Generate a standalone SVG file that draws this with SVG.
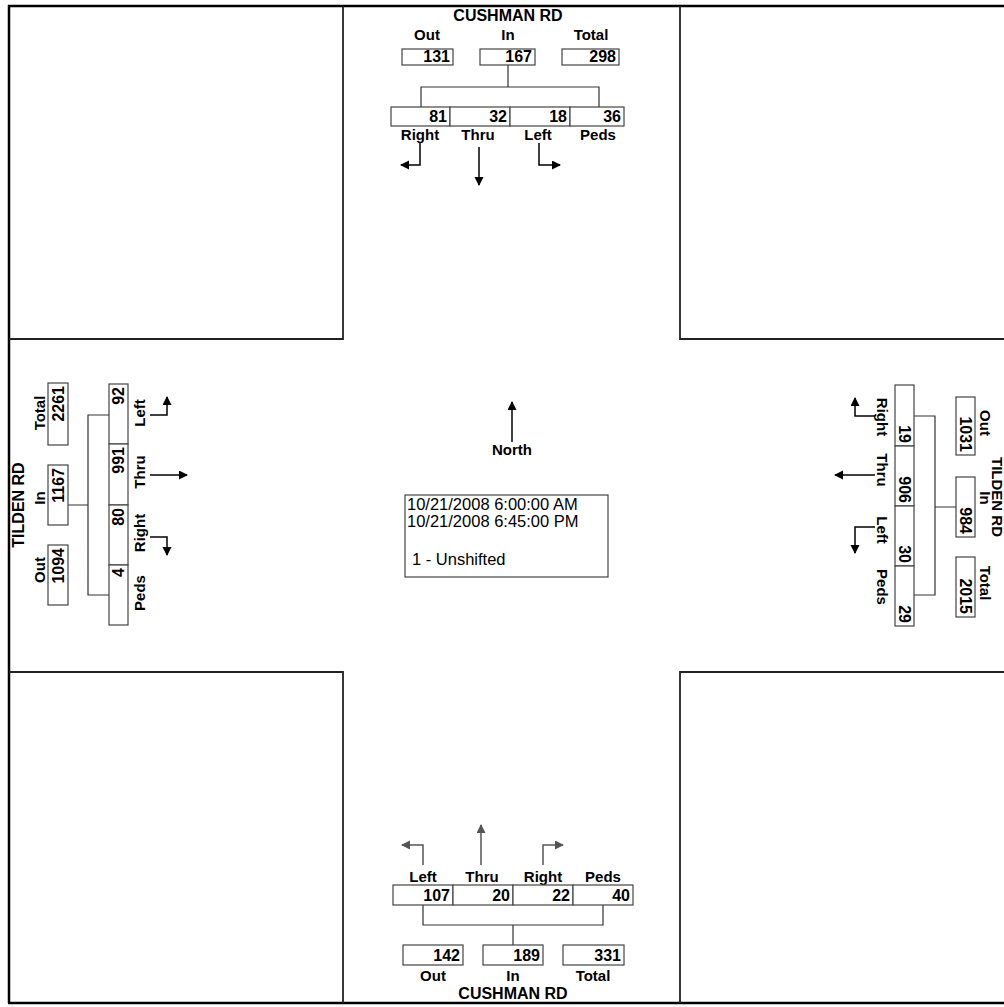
<svg xmlns="http://www.w3.org/2000/svg" width="1004" height="1007" viewBox="0 0 1004 1007">
<defs>
<style>
.t{font-family:"Liberation Sans",Arial,sans-serif;font-size:15px;font-weight:bold;fill:#000;text-anchor:middle}
.r{font-family:"Liberation Sans",Arial,sans-serif;font-size:16px;font-weight:bold;fill:#000;text-anchor:middle}
.re{font-family:"Liberation Sans",Arial,sans-serif;font-size:15px;font-weight:bold;fill:#000;text-anchor:middle}
.n{font-family:"Liberation Sans",Arial,sans-serif;font-size:16px;font-weight:bold;fill:#000;text-anchor:end}
.c{font-family:"Liberation Sans",Arial,sans-serif;font-size:16.5px;fill:#000}
.box{fill:#fff;stroke:#444;stroke-width:1.2}
.ln{stroke:#333;stroke-width:1.2;fill:none}
.frame{stroke:#000;stroke-width:2.5;fill:none}
.quad{stroke:#222;stroke-width:1.8;fill:none}
.arr{stroke:#000;stroke-width:1.5;fill:none;marker-end:url(#ah)}
.arrg{stroke:#555;stroke-width:1.5;fill:none;marker-end:url(#ahg)}
</style>
<marker id="ah" markerUnits="userSpaceOnUse" markerWidth="10" markerHeight="10" refX="8" refY="4.5" orient="auto"><path d="M0,0 L9,4.5 L0,9 z" fill="#000"/></marker>
<marker id="ahg" markerUnits="userSpaceOnUse" markerWidth="10" markerHeight="10" refX="8" refY="4.5" orient="auto"><path d="M0,0 L9,4.5 L0,9 z" fill="#555"/></marker>
</defs>
<rect width="1004" height="1007" fill="#fff"/>
<g id="frame">
<path class="frame" d="M8,6 H1004 M9,5 V1003 M8,1003 H1004"/>
<path class="quad" d="M343,6 V339 H9 M680,6 V339 H1004 M9,672 H343 V1003 M1004,672 H680 V1003"/>
</g>
<g id="connectors">
<path class="ln" d="M508,65 V87 M421,107 V87 H599 V107"/>
<path class="ln" d="M68,505 H88 M109,415 H88 V595 H109"/>
<path class="ln" d="M914,416 H935 V595 H914 M935,507 H956"/>
<path class="ln" d="M423,905 V925 H603 V905 M513,925 V945"/>
<path class="arr" d="M420,143 V165 H401"/>
<path class="arr" d="M479,147 V185"/>
<path class="arr" d="M539,143 V165 H560"/>
<path class="arr" d="M150,415 H167 V397"/>
<path class="arr" d="M150,475 H187"/>
<path class="arr" d="M150,537 H167 V555"/>
<path class="arr" d="M875,416 H855 V398"/>
<path class="arr" d="M875,475 H835"/>
<path class="arr" d="M875,527 H855 V553"/>
<path class="arrg" d="M423,865 V845 H402"/>
<path class="arrg" d="M481,865 V825"/>
<path class="arrg" d="M543,865 V845 H563"/>
<path class="arr" d="M512,442 V402"/>
</g>
<g id="north-approach">
<text class="r" x="508" y="21">CUSHMAN RD</text>
<text class="t" x="427" y="40">Out</text>
<text class="t" x="508" y="40">In</text>
<text class="t" x="591" y="40">Total</text>
<rect class="box" x="402" y="49" width="51" height="16"/>
<rect class="box" x="480" y="49" width="55" height="16"/>
<rect class="box" x="562" y="49" width="57" height="16"/>
<text class="n" x="450" y="62">131</text>
<text class="n" x="532" y="62">167</text>
<text class="n" x="616" y="62">298</text>
<rect class="box" x="391" y="107" width="59" height="19"/>
<rect class="box" x="450" y="107" width="60" height="19"/>
<rect class="box" x="510" y="107" width="60" height="19"/>
<rect class="box" x="570" y="107" width="54" height="19"/>
<text class="n" x="447" y="122">81</text>
<text class="n" x="507" y="122">32</text>
<text class="n" x="567" y="122">18</text>
<text class="n" x="621" y="122">36</text>
<text class="t" x="420" y="140">Right</text>
<text class="t" x="478" y="140">Thru</text>
<text class="t" x="538" y="140">Left</text>
<text class="t" x="598" y="140">Peds</text>
</g>
<g id="west-approach">
<text class="r" transform="rotate(-90 24 505)" x="24" y="505">TILDEN RD</text>
<text class="t" transform="rotate(-90 45 413)" x="45" y="413">Total</text>
<text class="t" transform="rotate(-90 45 498)" x="45" y="498">In</text>
<text class="t" transform="rotate(-90 45 570)" x="45" y="570">Out</text>
<rect class="box" x="48" y="383" width="20" height="62"/>
<rect class="box" x="48" y="465" width="20" height="60"/>
<rect class="box" x="48" y="545" width="20" height="60"/>
<text class="n" transform="rotate(-90 64 386)" x="64" y="386">2261</text>
<text class="n" transform="rotate(-90 64 468)" x="64" y="468">1167</text>
<text class="n" transform="rotate(-90 64 548)" x="64" y="548">1094</text>
<rect class="box" x="109" y="384" width="19" height="60"/>
<rect class="box" x="109" y="444" width="19" height="61"/>
<rect class="box" x="109" y="505" width="19" height="60"/>
<rect class="box" x="109" y="565" width="19" height="60"/>
<text class="n" transform="rotate(-90 124 387)" x="124" y="387">92</text>
<text class="n" transform="rotate(-90 124 447)" x="124" y="447">991</text>
<text class="n" transform="rotate(-90 124 508)" x="124" y="508">80</text>
<text class="n" transform="rotate(-90 124 568)" x="124" y="568">4</text>
<text class="t" transform="rotate(-90 145 413)" x="145" y="413">Left</text>
<text class="t" transform="rotate(-90 145 472)" x="145" y="472">Thru</text>
<text class="t" transform="rotate(-90 145 533)" x="145" y="533">Right</text>
<text class="t" transform="rotate(-90 145 593)" x="145" y="593">Peds</text>
</g>
<g id="east-approach">
<rect class="box" x="895" y="385" width="19" height="61"/>
<rect class="box" x="895" y="446" width="19" height="60"/>
<rect class="box" x="895" y="506" width="19" height="60"/>
<rect class="box" x="895" y="566" width="19" height="60"/>
<text class="n" transform="rotate(90 899 443)" x="899" y="443">19</text>
<text class="n" transform="rotate(90 899 503)" x="899" y="503">906</text>
<text class="n" transform="rotate(90 899 563)" x="899" y="563">30</text>
<text class="n" transform="rotate(90 899 623)" x="899" y="623">29</text>
<text class="t" transform="rotate(90 877 417)" x="877" y="417">Right</text>
<text class="t" transform="rotate(90 877 470)" x="877" y="470">Thru</text>
<text class="t" transform="rotate(90 877 530)" x="877" y="530">Left</text>
<text class="t" transform="rotate(90 877 587)" x="877" y="587">Peds</text>
<rect class="box" x="956" y="397" width="19" height="58"/>
<rect class="box" x="956" y="477" width="19" height="60"/>
<rect class="box" x="956" y="557" width="19" height="60"/>
<text class="n" transform="rotate(90 960 452)" x="960" y="452">1031</text>
<text class="n" transform="rotate(90 960 534)" x="960" y="534">984</text>
<text class="n" transform="rotate(90 960 614)" x="960" y="614">2015</text>
<text class="t" transform="rotate(90 980 423)" x="980" y="423">Out</text>
<text class="t" transform="rotate(90 980 498)" x="980" y="498">In</text>
<text class="t" transform="rotate(90 980 583)" x="980" y="583">Total</text>
<text class="re" transform="rotate(90 992 497)" x="992" y="497">TILDEN RD</text>
</g>
<g id="south-approach">
<text class="t" x="423" y="882">Left</text>
<text class="t" x="482" y="882">Thru</text>
<text class="t" x="543" y="882">Right</text>
<text class="t" x="603" y="882">Peds</text>
<rect class="box" x="393" y="885" width="60" height="20"/>
<rect class="box" x="453" y="885" width="60" height="20"/>
<rect class="box" x="513" y="885" width="60" height="20"/>
<rect class="box" x="573" y="885" width="60" height="20"/>
<text class="n" x="450" y="901">107</text>
<text class="n" x="510" y="901">20</text>
<text class="n" x="570" y="901">22</text>
<text class="n" x="630" y="901">40</text>
<rect class="box" x="403" y="945" width="60" height="20"/>
<rect class="box" x="483" y="945" width="60" height="20"/>
<rect class="box" x="563" y="945" width="61" height="20"/>
<text class="n" x="460" y="961">142</text>
<text class="n" x="540" y="961">189</text>
<text class="n" x="621" y="961">331</text>
<text class="t" x="433" y="981">Out</text>
<text class="t" x="513" y="981">In</text>
<text class="t" x="593" y="981">Total</text>
<text class="r" x="513" y="999">CUSHMAN RD</text>
</g>
<g id="center">
<text class="t" x="512" y="455">North</text>
<rect class="box" x="405" y="495" width="203" height="82"/>
<text class="c" x="407" y="510">10/21/2008 6:00:00 AM</text>
<text class="c" x="407" y="527">10/21/2008 6:45:00 PM</text>
<text class="c" x="412" y="565">1 - Unshifted</text>
</g>
</svg>
